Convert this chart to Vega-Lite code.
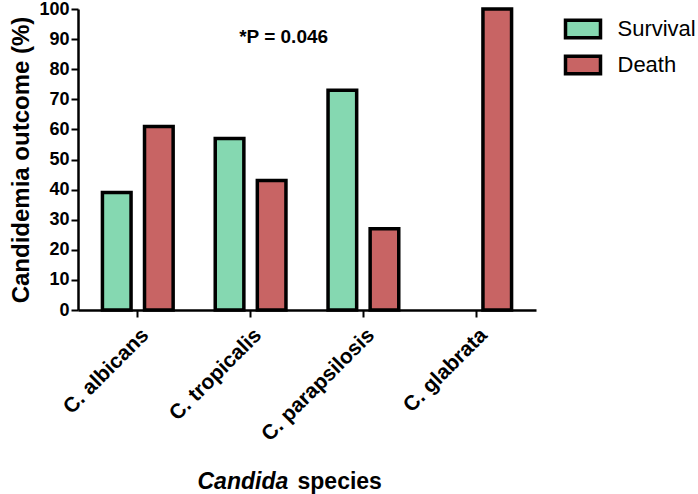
{
  "$schema": "https://vega.github.io/schema/vega-lite/v6.json",
  "width": 458,
  "height": 301,
  "autosize": {"type": "none"},
  "padding": {"left": 78, "top": 9, "right": 162, "bottom": 184},
  "background": "white",
  "config": {
    "font": "Liberation Sans",
    "view": {"stroke": null}
  },
  "datasets": {
    "bars": [
      {"species": "C. albicans", "outcome": "Survival", "pct": 39},
      {"species": "C. albicans", "outcome": "Death", "pct": 61},
      {"species": "C. tropicalis", "outcome": "Survival", "pct": 57},
      {"species": "C. tropicalis", "outcome": "Death", "pct": 43},
      {"species": "C. parapsilosis", "outcome": "Survival", "pct": 73},
      {"species": "C. parapsilosis", "outcome": "Death", "pct": 27},
      {"species": "C. glabrata", "outcome": "Death", "pct": 100}
    ],
    "note": [
      {"species": "C. tropicalis", "outcome": "Death", "pct": 90.7, "label": "*P = 0.046"}
    ]
  },
  "resolve": {"axis": {"x": "independent"}},
  "encoding": {
    "xOffset": {
      "field": "outcome", "type": "nominal",
      "sort": ["Survival", "Death"],
      "scale": {"domain": ["Survival", "Death"], "paddingInner": 0.32, "paddingOuter": 0.5}
    },
    "y": {
      "field": "pct", "type": "quantitative",
      "scale": {"domain": [0, 100], "nice": false},
      "axis": {
        "title": "Candidemia outcome (%)",
        "titleFontSize": 24, "titleFontWeight": "bold", "titleColor": "black",
        "titlePadding": 5,
        "values": [0, 10, 20, 30, 40, 50, 60, 70, 80, 90, 100],
        "labelOverlap": false,
        "labelFontSize": 18, "labelFontWeight": "bold", "labelColor": "black",
        "labelPadding": 2,
        "domainColor": "black", "domainWidth": 2.5,
        "tickColor": "black", "tickWidth": 2, "tickSize": 7,
        "grid": false
      }
    }
  },
  "layer": [
    {
      "data": {"name": "bars"},
      "mark": {"type": "bar", "stroke": "black", "strokeWidth": 3.5, "strokeJoin": "miter"},
      "encoding": {
        "x": {
          "field": "species", "type": "nominal",
          "sort": ["C. albicans", "C. tropicalis", "C. parapsilosis", "C. glabrata"],
          "scale": {"domain": ["C. albicans", "C. tropicalis", "C. parapsilosis", "C. glabrata"], "paddingInner": 0, "paddingOuter": 0.03},
          "axis": {
            "orient": "bottom",
            "title": "Candida",
            "titleFontSize": 23, "titleFontWeight": "bold", "titleFontStyle": "italic",
            "titleColor": "black", "titleAlign": "left", "titleAnchor": null,
            "titleX": 119, "titleY": 178, "titleBaseline": "alphabetic",
            "labelAngle": -45, "labelFontSize": 21, "labelFontWeight": "bold",
            "labelColor": "black", "labelPadding": 7,
            "labelOverlap": false,
            "domainColor": "black", "domainWidth": 2.5,
            "tickColor": "black", "tickWidth": 2, "tickSize": 7
          }
        },
        "fill": {
          "field": "outcome", "type": "nominal",
          "sort": ["Survival", "Death"],
          "scale": {"domain": ["Survival", "Death"], "range": ["#85d8b1", "#c86464"]},
          "legend": {
            "title": null,
            "orient": "right",
            "offset": 27,
            "labelFontSize": 22,
            "labelColor": "black",
            "labelOffset": 15,
            "symbolType": "M-1,-0.5H1V0.5H-1Z",
            "symbolSize": 1225,
            "symbolStrokeColor": "black",
            "symbolStrokeWidth": 3.5,
            "rowPadding": 0,
            "padding": 0.5
          }
        }
      }
    },
    {
      "data": {"name": "note"},
      "mark": {"type": "text", "fontSize": 19, "fontWeight": "bold", "color": "black", "align": "center", "baseline": "middle", "dx": 12},
      "encoding": {
        "x": {
          "field": "species", "type": "nominal",
          "sort": ["C. albicans", "C. tropicalis", "C. parapsilosis", "C. glabrata"],
          "axis": {
            "orient": "bottom",
            "title": "species",
            "titleFontSize": 23, "titleFontWeight": "bold", "titleFontStyle": "normal",
            "titleColor": "black", "titleAlign": "left", "titleAnchor": null,
            "titleX": 219, "titleY": 178, "titleBaseline": "alphabetic",
            "labels": false, "ticks": false, "domain": false, "grid": false
          }
        },
        "text": {"field": "label"}
      }
    }
  ]
}
